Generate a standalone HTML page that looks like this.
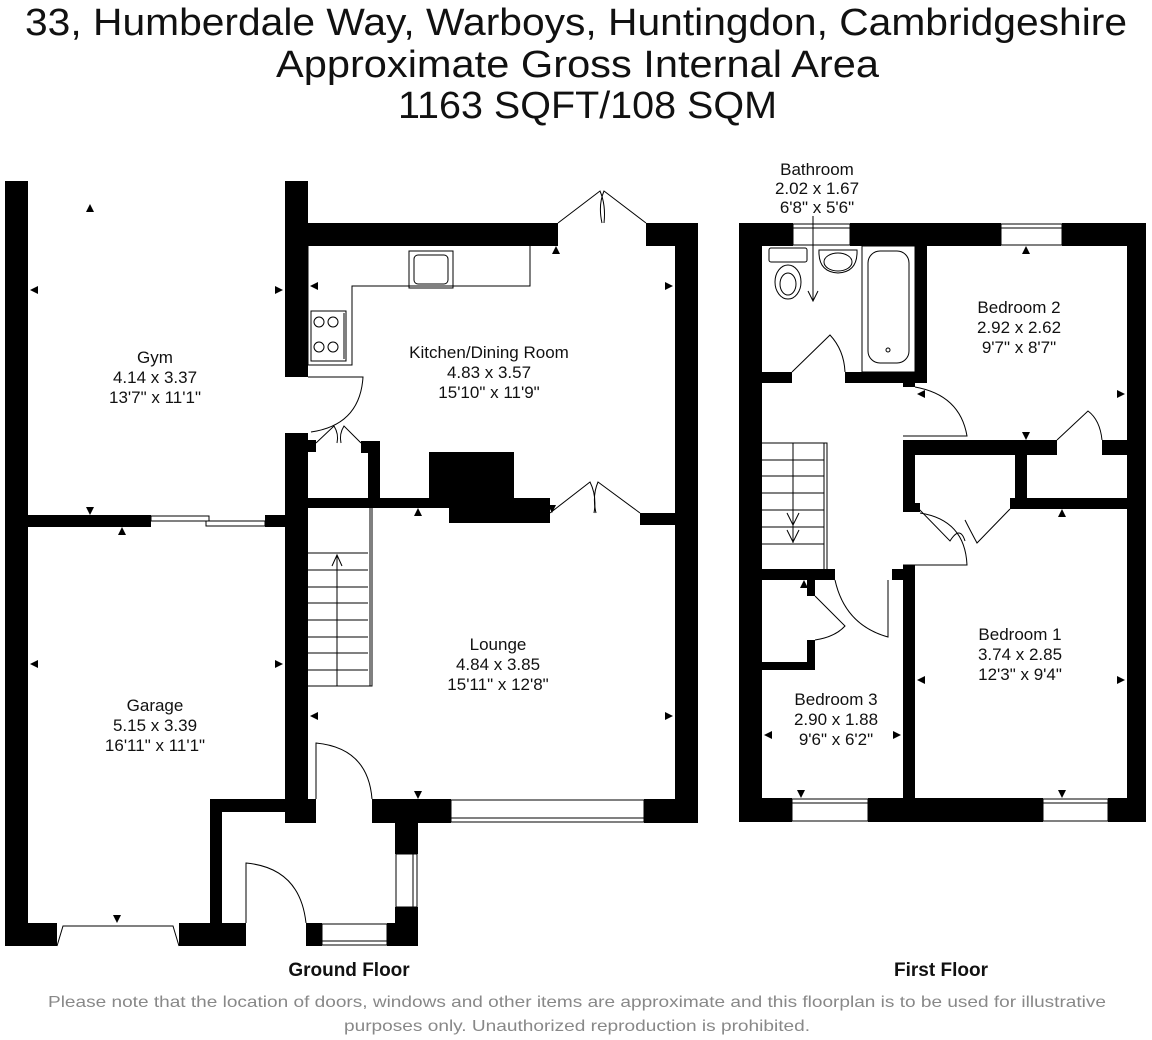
<!DOCTYPE html>
<html><head><meta charset="utf-8"><style>
html,body{margin:0;padding:0;background:#fff;}
svg{display:block;}
text{font-family:"Liberation Sans",sans-serif;}
</style></head><body>
<svg width="1152" height="1040" viewBox="0 0 1152 1040" xmlns="http://www.w3.org/2000/svg">
<rect width="1152" height="1040" fill="#fff"/>
<!-- Title -->
<g fill="#111" font-size="38">
<text x="25" y="35" textLength="1102" lengthAdjust="spacingAndGlyphs">33, Humberdale Way, Warboys, Huntingdon, Cambridgeshire</text>
<text x="276" y="77" textLength="603" lengthAdjust="spacingAndGlyphs">Approximate Gross Internal Area</text>
<text x="398" y="118" textLength="379" lengthAdjust="spacingAndGlyphs">1163 SQFT/108 SQM</text>
</g>

<!-- GROUND FLOOR walls -->
<g fill="#000">
<rect x="5" y="181" width="23" height="765"/>
<rect x="285" y="181" width="23" height="196"/>
<rect x="308" y="223" width="250" height="23"/>
<rect x="646" y="223" width="52" height="23"/>
<rect x="675" y="223" width="23" height="600"/>
<rect x="285" y="433" width="23" height="390"/>
<rect x="308" y="440" width="8" height="12"/>
<rect x="361" y="441" width="19" height="12"/>
<rect x="368" y="441" width="12" height="60"/>
<rect x="308" y="498" width="141" height="10"/>
<rect x="429" y="452" width="85" height="50"/>
<rect x="449" y="498" width="101" height="25"/>
<rect x="640" y="513" width="35" height="12"/>
<rect x="28" y="515" width="123" height="12"/>
<rect x="265" y="515" width="20" height="12"/>
<rect x="5" y="923" width="52" height="23"/>
<rect x="179" y="923" width="67" height="23"/>
<rect x="210" y="799" width="12" height="147"/>
<rect x="210" y="799" width="75" height="13"/>
<rect x="285" y="799" width="31" height="24"/>
<rect x="372" y="799" width="79" height="24"/>
<rect x="644" y="799" width="54" height="24"/>
<rect x="395" y="799" width="23" height="55"/>
<rect x="395" y="907" width="23" height="39"/>
<rect x="306" y="923" width="16" height="23"/>
<rect x="387" y="923" width="31" height="23"/>
</g>
<g fill="none" stroke="#000" stroke-width="1">
<rect x="151" y="516" width="58" height="5"/><rect x="206" y="521" width="59" height="5"/>
<rect x="451" y="800" width="193" height="22"/><line x1="451" y1="818" x2="644" y2="818"/>
<rect x="396" y="854" width="21" height="53"/><line x1="413" y1="854" x2="413" y2="907"/>
<rect x="322" y="924" width="65" height="21"/><line x1="322" y1="941" x2="387" y2="941"/>
<path d="M57 946 L63 926 L173 926 L179 946"/>
<path d="M308 246 L308 365 L352 365 L352 286 L530 286 L530 246"/>
<rect x="409" y="251" width="44" height="37"/><rect x="414" y="255" width="34" height="29" rx="4"/>
<rect x="311" y="311" width="35" height="50"/>
<circle cx="319" cy="322" r="5"/><circle cx="333" cy="322" r="5"/><circle cx="319" cy="347" r="5"/><circle cx="333" cy="347" r="5"/>
<line x1="344" y1="313" x2="344" y2="359"/>
<path d="M558 223 L600 191 Q606 205 604 223"/><path d="M646 223 L604 191 Q598 205 602 223"/>
<path d="M550 513 L590 482 Q597 496 594 513"/><path d="M640 513 L598 482 Q592 496 596 513"/>
<path d="M316 443 L334 426 Q339 434 337 443"/><path d="M361 443 L344 426 Q339 434 341 443"/>
<path d="M308 377 L363 377 Q360 425 311 432"/>
<path d="M316 799 L316 743 Q368 748 372 799"/>
<path d="M246 923 L246 863 Q300 868 306 923"/>
<path d="M308 686 L372 686 L372 508 M370 508 L370 686"/>
<path d="M308 553 H368 M308 570 H368 M308 587 H368 M308 603 H368 M308 620 H368 M308 637 H368 M308 653 H368 M308 670 H368"/>
<path d="M337 686 L337 555 M332 566 L337 555 L342 566"/>
</g>

<!-- FIRST FLOOR walls -->
<g fill="#000">
<rect x="739" y="223" width="54" height="23"/>
<rect x="850" y="223" width="151" height="23"/>
<rect x="1062" y="223" width="84" height="23"/>
<rect x="739" y="223" width="23" height="599"/>
<rect x="1127" y="223" width="19" height="599"/>
<rect x="739" y="798" width="53" height="24"/>
<rect x="868" y="798" width="175" height="24"/>
<rect x="1108" y="798" width="38" height="24"/>
<rect x="762" y="372" width="30" height="11"/>
<rect x="845" y="372" width="82" height="11"/>
<rect x="915" y="246" width="12" height="137"/>
<rect x="903" y="383" width="12" height="4"/>
<rect x="903" y="440" width="154" height="15"/>
<rect x="1102" y="440" width="25" height="15"/>
<rect x="903" y="440" width="12" height="72"/>
<rect x="915" y="503" width="5" height="9"/>
<rect x="1015" y="455" width="12" height="54"/>
<rect x="1010" y="498" width="117" height="11"/>
<rect x="903" y="565" width="12" height="245"/>
<rect x="892" y="569" width="23" height="11"/>
<rect x="762" y="569" width="73" height="11"/>
<rect x="807" y="580" width="8" height="16"/>
<rect x="807" y="640" width="8" height="30"/>
<rect x="762" y="662" width="53" height="8"/>
</g>
<g fill="none" stroke="#000" stroke-width="1">
<rect x="793" y="224" width="57" height="21"/><line x1="793" y1="228" x2="850" y2="228"/>
<rect x="1001" y="224" width="61" height="21"/><line x1="1001" y1="228" x2="1062" y2="228"/>
<rect x="792" y="799" width="76" height="22"/><line x1="792" y1="803" x2="868" y2="803"/>
<rect x="1043" y="799" width="65" height="22"/><line x1="1043" y1="803" x2="1108" y2="803"/>
<rect x="769" y="248" width="38" height="14" rx="2"/>
<ellipse cx="788" cy="282" rx="13" ry="17"/><ellipse cx="788" cy="284" rx="8" ry="11"/>
<path d="M819 250 L857 250 Q858 272 838 273 Q818 272 819 250Z"/><ellipse cx="838" cy="262" rx="14" ry="9"/>
<rect x="862" y="246" width="53" height="126"/>
<rect x="868" y="251" width="41" height="112" rx="12"/>
<circle cx="888" cy="350" r="2"/>
<path d="M813 216 L813 301 M808 291 L813 301 L818 291"/>
<path d="M792 372 L830 335 Q844 350 845 372"/>
<path d="M915 387 Q960 395 967 436 L903 436"/>
<path d="M1057 440 L1088 411 Q1100 420 1102 440"/>
<path d="M915 505 L950 541 Q960 525 965 541"/>
<path d="M1010 509 L977 543 Q970 530 965 520"/>
<path d="M920 513 Q965 520 967 565 L903 565"/>
<path d="M835 580 Q845 625 888 637 L888 580"/>
<path d="M815 596 L845 626 Q835 637 815 640"/>
<path d="M762 443 L827 443 L827 569 M824 443 L824 569"/>
<path d="M762 460 H824 M762 476 H824 M762 493 H824 M762 510 H824 M762 527 H824 M762 544 H824"/>
<path d="M793 443 L793 543 M787 513 L793 525 L799 513 M787 530 L793 542 L799 530"/>
</g>

<!-- dimension arrows -->
<g fill="#000">
<path d="M30 290 l8 -4 v8z M283 290 l-8 -4 v8z M86 212 l4 -8 l4 8z"/>
<path d="M86 507 l4 8 l4 -8z M118 535 l4 -8 l4 8z M30 664 l8 -4 v8z M283 664 l-8 -4 v8z M113 915 l4 8 l4 -8z"/>
<path d="M310 286 l8 -4 v8z M673 286 l-8 -4 v8z M552 254 l4 -8 l4 8z"/>
<path d="M414 516 l4 -8 l4 8z M548 505 l4 8 l4 -8z M310 716 l8 -4 v8z M673 716 l-8 -4 v8z M414 791 l4 8 l4 -8z"/>
<path d="M1022 254 l4 -8 l4 8z M1125 394 l-8 -4 v8z M1022 432 l4 8 l4 -8z M1058 517 l4 -8 l4 8z"/>
<path d="M917 680 l8 -4 v8z M1125 680 l-8 -4 v8z M1058 790 l4 8 l4 -8z"/>
<path d="M764 735 l8 -4 v8z M901 735 l-8 -4 v8z M797 790 l4 8 l4 -8z M800 588 l4 -8 l4 8z M917 394 l8 -4 v8z"/>
</g>

<!-- room labels -->
<g fill="#111" font-size="17" text-anchor="middle">
<text x="155" y="363">Gym</text><text x="155" y="383">4.14 x 3.37</text><text x="155" y="403">13'7" x 11'1"</text>
<text x="489" y="358">Kitchen/Dining Room</text><text x="489" y="378">4.83 x 3.57</text><text x="489" y="398">15'10" x 11'9"</text>
<text x="155" y="711">Garage</text><text x="155" y="731">5.15 x 3.39</text><text x="155" y="751">16'11" x 11'1"</text>
<text x="498" y="650">Lounge</text><text x="498" y="670">4.84 x 3.85</text><text x="498" y="690">15'11" x 12'8"</text>
<text x="817" y="175">Bathroom</text><text x="817" y="194">2.02 x 1.67</text><text x="817" y="213">6'8" x 5'6"</text>
<text x="1019" y="313">Bedroom 2</text><text x="1019" y="333">2.92 x 2.62</text><text x="1019" y="353">9'7" x 8'7"</text>
<text x="1020" y="640">Bedroom 1</text><text x="1020" y="660">3.74 x 2.85</text><text x="1020" y="680">12'3" x 9'4"</text>
<text x="836" y="705">Bedroom 3</text><text x="836" y="725">2.90 x 1.88</text><text x="836" y="745">9'6" x 6'2"</text>
</g>
<g fill="#111" font-size="19" font-weight="bold" text-anchor="middle">
<text x="349" y="976">Ground Floor</text><text x="941" y="976">First Floor</text>
</g>
<g fill="#888" font-size="16" text-anchor="middle">
<text x="577" y="1007" textLength="1058" lengthAdjust="spacingAndGlyphs">Please note that the location of doors, windows and other items are approximate and this floorplan is to be used for illustrative</text>
<text x="577" y="1031" textLength="466" lengthAdjust="spacingAndGlyphs">purposes only. Unauthorized reproduction is prohibited.</text>
</g>
</svg>
</body></html>
